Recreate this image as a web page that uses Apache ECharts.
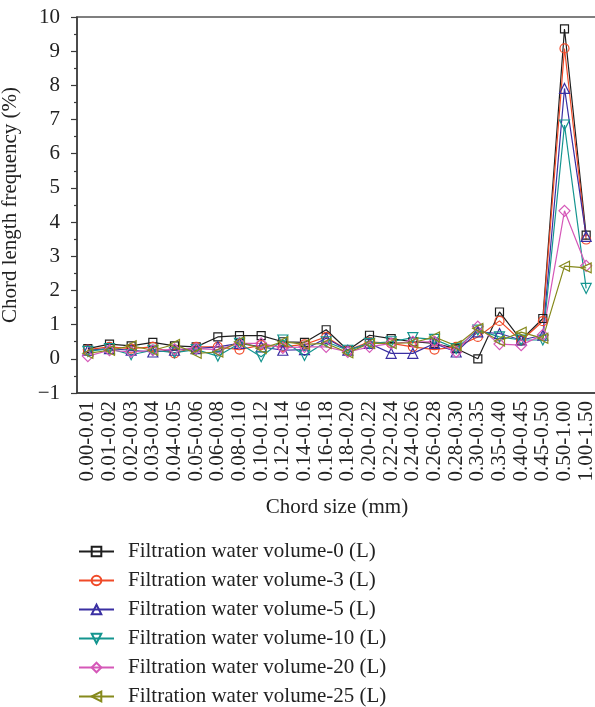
<!DOCTYPE html>
<html>
<head>
<meta charset="utf-8">
<script src="https://cdn.jsdelivr.net/npm/echarts@6/dist/echarts.min.js"></script>
<style>
  html, body { margin: 0; padding: 0; background: #fff; }
  #chart { width: 595px; height: 707px; }
</style>
</head>
<body>
<div id="chart"></div>
<script>
  // chord size classes (mm)
  var categories = ['0.00-0.01', '0.01-0.02', '0.02-0.03', '0.03-0.04', '0.04-0.05', '0.05-0.06',
    '0.06-0.08', '0.08-0.10', '0.10-0.12', '0.12-0.14', '0.14-0.16', '0.16-0.18', '0.18-0.20',
    '0.20-0.22', '0.22-0.24', '0.24-0.26', '0.26-0.28', '0.28-0.30', '0.30-0.35', '0.35-0.40',
    '0.40-0.45', '0.45-0.50', '0.50-1.00', '1.00-1.50'];

  // chord length frequency (%) per filtration water volume
  var vol0 = [0.30, 0.43, 0.38, 0.48, 0.38, 0.35, 0.64, 0.68, 0.68, 0.50, 0.48, 0.85, 0.25, 0.69, 0.59, 0.50, 0.45, 0.30, 0.00, 1.37, 0.55, 1.18, 9.65, 3.62];
  var vol3 = [0.27, 0.35, 0.30, 0.35, 0.16, 0.35, 0.35, 0.27, 0.40, 0.35, 0.42, 0.64, 0.25, 0.50, 0.45, 0.35, 0.27, 0.35, 0.64, 1.11, 0.53, 1.10, 9.08, 3.49];
  var vol5 = [0.25, 0.30, 0.25, 0.20, 0.25, 0.30, 0.35, 0.45, 0.35, 0.25, 0.27, 0.60, 0.25, 0.45, 0.16, 0.16, 0.45, 0.20, 0.79, 0.74, 0.55, 0.69, 7.91, 3.58];
  var vol10 = [0.22, 0.30, 0.12, 0.25, 0.18, 0.27, 0.08, 0.45, 0.06, 0.55, 0.10, 0.50, 0.25, 0.45, 0.50, 0.62, 0.57, 0.30, 0.84, 0.64, 0.55, 0.55, 6.84, 2.06];
  var vol20 = [0.08, 0.25, 0.20, 0.25, 0.28, 0.30, 0.27, 0.45, 0.45, 0.32, 0.35, 0.35, 0.20, 0.35, 0.45, 0.50, 0.50, 0.20, 0.94, 0.43, 0.40, 0.70, 4.33, 2.72];
  var vol25 = [0.16, 0.25, 0.38, 0.25, 0.42, 0.16, 0.20, 0.50, 0.30, 0.50, 0.42, 0.45, 0.18, 0.45, 0.45, 0.47, 0.64, 0.38, 0.89, 0.52, 0.78, 0.60, 2.71, 2.66];

  var seriesNames = ['Filtration water volume-0 (L)', 'Filtration water volume-3 (L)', 'Filtration water volume-5 (L)',
    'Filtration water volume-10 (L)', 'Filtration water volume-20 (L)', 'Filtration water volume-25 (L)'];

  var font = '"Liberation Serif", "DejaVu Serif", serif';
  var axisColor = '#3a3a3a';

  function makeSeries(name, data, color, symbol, size, rotate) {
    return {
      name: name,
      type: 'line',
      data: data,
      symbol: symbol,
      symbolSize: size,
      symbolRotate: rotate,
      color: color,
      lineStyle: { color: color, width: 1.2 },
      itemStyle: { color: 'rgba(255,255,255,0)', borderColor: color, borderWidth: 1.2 },
      emphasis: { disabled: true },
      animation: false
    };
  }

  var chart = echarts.init(document.getElementById('chart'));
  var option = {
    backgroundColor: '#fff',
    grid: {
      left: 77, top: 17, width: 520, height: 376,
      outerBoundsMode: 'none',
      containLabel: false,
      show: true, borderColor: '#555', borderWidth: 1.5
    },
    legend: {
      orient: 'vertical',
      left: 78,
      top: 541,
      padding: 0,
      itemWidth: 35,
      itemHeight: 12,
      itemGap: 8,
      data: seriesNames,
      textStyle: { fontFamily: font, fontSize: 21, color: '#222', lineHeight: 21, padding: [0, 0, 0, 9] }
    },
    xAxis: [{
      type: 'category',
      data: categories,
      boundaryGap: true,
      name: 'Chord size (mm)',
      nameLocation: 'middle',
      nameGap: 104,
      nameTextStyle: { fontFamily: font, fontSize: 21, color: '#222' },
      axisLine: { onZero: false, lineStyle: { color: axisColor, width: 1.5 } },
      axisTick: { alignWithLabel: true, length: 6, lineStyle: { color: axisColor, width: 1.2 } },
      axisLabel: { rotate: 90, interval: 0, margin: 8, fontFamily: font, fontSize: 21, color: '#222' }
    }, {
      type: 'category',
      data: categories,
      boundaryGap: true,
      position: 'bottom',
      axisLine: { show: false, onZero: false },
      axisTick: { length: 3, lineStyle: { color: axisColor, width: 1.2 } },
      axisLabel: { show: false }
    }],
    yAxis: {
      type: 'value',
      min: -1,
      max: 10,
      interval: 1,
      name: 'Chord length frequency (%)',
      nameLocation: 'middle',
      nameGap: 56,
      nameTextStyle: { fontFamily: font, fontSize: 21, color: '#222' },
      splitLine: { show: false },
      axisLine: { show: true, lineStyle: { color: axisColor, width: 1.5 } },
      axisTick: { show: true, length: 6, lineStyle: { color: axisColor, width: 1.2 } },
      minorTick: { show: true, splitNumber: 2, length: 3, lineStyle: { color: axisColor, width: 1.2 } },
      axisLabel: {
        margin: 17, fontFamily: font, fontSize: 21, color: '#222',
        formatter: function (v) { return String(v).replace('-', '\u2212'); }
      }
    },
    series: [
      makeSeries(seriesNames[0], vol0, '#1e1e1e', 'rect', 8, 0),
      makeSeries(seriesNames[1], vol3, '#f04a28', 'circle', 9, 0),
      makeSeries(seriesNames[2], vol5, '#3a2fa2', 'triangle', 10, 0),
      makeSeries(seriesNames[3], vol10, '#14958f', 'triangle', 10, 180),
      makeSeries(seriesNames[4], vol20, '#d558b8', 'diamond', 11, 0),
      makeSeries(seriesNames[5], vol25, '#868a1c', 'triangle', 10, 90)
    ]
  };
  chart.setOption(option);
</script>
</body>
</html>
